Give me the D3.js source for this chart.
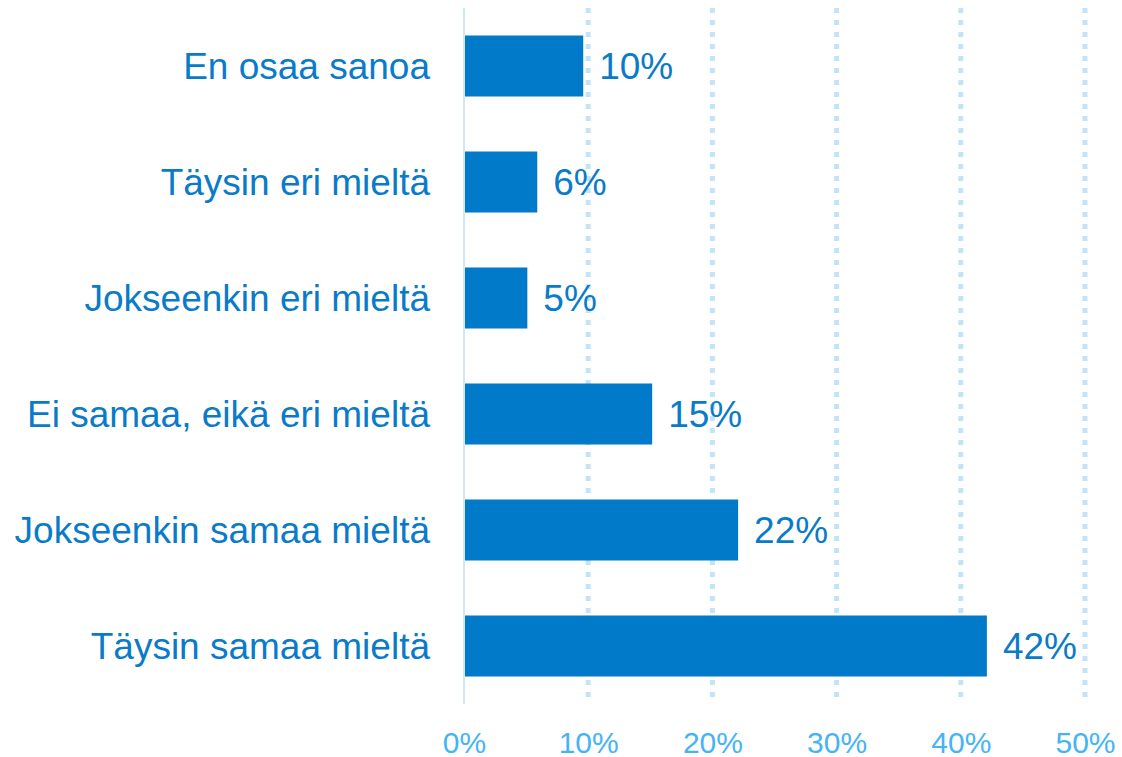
<!DOCTYPE html>
<html>
<head>
<meta charset="utf-8">
<script src="https://cdn.jsdelivr.net/npm/d3@7"></script>
<style>
  body { margin: 0; background: #fff; }
  text { font-family: "Liberation Sans", Arial, sans-serif; }
</style>
</head>
<body>
<svg width="1122" height="757"></svg>
<script>
// data
var categories = ["En osaa sanoa", "Täysin eri mieltä", "Jokseenkin eri mieltä",
  "Ei samaa, eikä eri mieltä", "Jokseenkin samaa mieltä", "Täysin samaa mieltä"];
var values = [9.6, 5.9, 5.1, 15.15, 22.07, 42.1];
var valueLabels = ["10%", "6%", "5%", "15%", "22%", "42%"];
var ticks = [0, 10, 20, 30, 40, 50];

var margin = { top: 8, left: 464, right: 37, bottom: 53 },
  width = 1122 - margin.left - margin.right,
  height = 757 - margin.top - margin.bottom;

var svg = d3.select("svg");
var g = svg.append("g")
  .attr("transform", "translate(" + margin.left + "," + margin.top + ")");

var xScale = d3.scaleLinear().domain([0, 50]).range([0, width]);
var yScale = d3.scaleBand()
  .domain(categories)
  .range([0, height])
  .paddingInner(0.474)
  .paddingOuter(0.237);

// gridlines
g.selectAll(".grid")
  .data(ticks.slice(1))
  .enter().append("line")
  .attr("x1", d => xScale(d))
  .attr("x2", d => xScale(d))
  .attr("y1", 0)
  .attr("y2", height)
  .attr("stroke", "#c3e4f7")
  .attr("stroke-width", 5)
  .attr("stroke-dasharray", "5,7");

// zero line
g.append("line")
  .attr("x1", xScale(0)).attr("x2", xScale(0))
  .attr("y1", 0).attr("y2", height)
  .attr("stroke", "#cfe9f9")
  .attr("stroke-width", 2);

// bars
g.selectAll(".bar")
  .data(values)
  .enter().append("rect")
  .attr("x", xScale(0) + 1)
  .attr("y", (d, i) => yScale(categories[i]))
  .attr("width", d => xScale(d) - xScale(0) - 1)
  .attr("height", yScale.bandwidth())
  .attr("fill", "#007ac9");

// value labels
g.selectAll(".val")
  .data(values)
  .enter().append("text")
  .attr("x", d => xScale(d) + 16)
  .attr("y", (d, i) => yScale(categories[i]) + yScale.bandwidth() / 2)
  .attr("dy", "0.34em")
  .attr("font-size", "37px")
  .attr("fill", "#0a7bc8")
  .text((d, i) => valueLabels[i]);

// category labels
g.selectAll(".cat")
  .data(categories)
  .enter().append("text")
  .attr("x", -34)
  .attr("y", d => yScale(d) + yScale.bandwidth() / 2)
  .attr("dy", "0.34em")
  .attr("text-anchor", "end")
  .attr("font-size", "37px")
  .attr("fill", "#0a7bc8")
  .text(d => d);

// x axis tick labels
var xAxis = g.append("g")
  .attr("transform", "translate(0," + height + ")")
  .call(d3.axisBottom(xScale).tickValues(ticks).tickSize(0).tickFormat(d => d + "%"));
xAxis.select(".domain").remove();
xAxis.selectAll("text")
  .attr("y", 49)
  .attr("dy", 0)
  .attr("font-size", "30px")
  .attr("font-family", "Liberation Sans, Arial, sans-serif")
  .attr("fill", "#45b4f5");
</script>
</body>
</html>
